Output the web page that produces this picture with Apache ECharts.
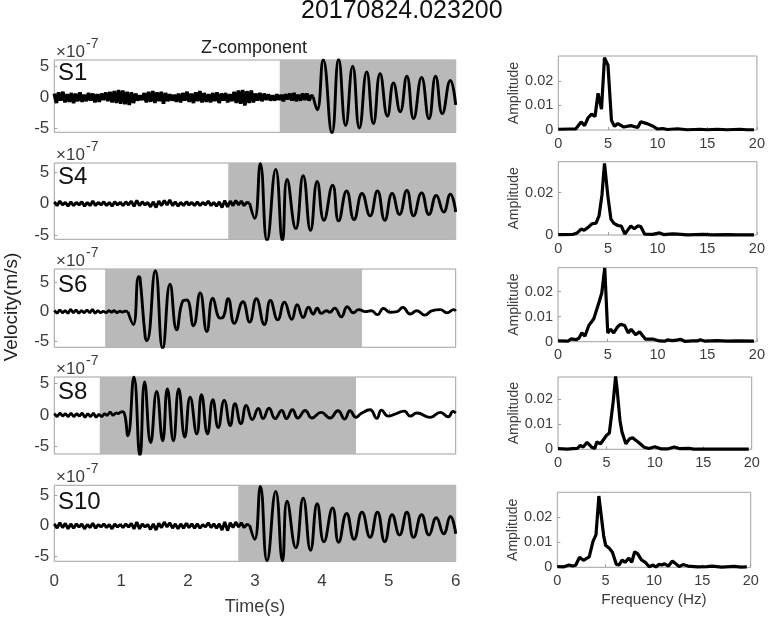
<!DOCTYPE html>
<html>
<head>
<meta charset="utf-8">
<style>
html, body { margin: 0; padding: 0; background: #fff; }
#chart { width: 768px; height: 618px; }
</style>
<script src="https://cdn.jsdelivr.net/npm/echarts@6/dist/echarts.min.js"></script>
</head>
<body>
<div id="chart"></div>
<script>
var stations = ['S1', 'S4', 'S6', 'S8', 'S10'];

// shaded windows, seconds
var s1Window = [3.37, 6];
var s4Window = [2.6, 6];
var s6Window = [0.76, 4.6];
var s8Window = [0.68, 4.51];
var s10Window = [2.75, 6];

// pre-event noise, one value every noiseStep seconds
var s1NoiseStep = 0.032;
var s1Noise = [0.6,-0.9,0.8,-0.5,0.9,-0.8,0.5,-0.7,0.7,-0.9,0.6,-0.6,0.8,-0.7,0.4,-0.6,0.7,-0.5,0.6,-0.8,0.5,-0.7,0.6,-0.4,
    0.8,-0.6,0.9,-0.8,1.0,-0.9,1.2,-1.0,1.1,-1.1,0.9,-1.2,0.8,-0.9,0.6,-0.5,0.3,-0.4,
    0.7,-0.8,0.9,-0.7,1.0,-0.9,0.8,-0.6,0.9,-1.0,0.7,-0.6,0.5,-0.5,0.4,-0.7,0.6,-0.8,0.7,-0.5,
    0.9,-0.7,0.6,-0.9,0.8,-0.6,1.0,-0.8,0.7,-0.7,0.5,-0.8,0.7,-0.6,0.8,-0.9,0.6,-0.5,0.7,-0.8,0.5,-0.6,
    0.9,-0.9,1.1,-1.0,1.2,-1.3,1.0,-0.9,1.1,-0.8,0.6,-0.5,0.7,-0.6,0.6,-0.4,0.5,-0.5,0.3,-0.5,
    0.5,-0.4,0.4,-0.6,0.5,-0.3,0.6,-0.5,0.7,-0.6,0.4,-0.5,0.6,-0.4,0.6,-0.5,0.3,0.1];
var s4NoiseStep = 0.0411;
var s4Noise = [0.3,-0.3,0.4,-0.2,0.2,-0.4,0.3,-0.3,0.2,-0.2,0.3,-0.4,0.2,-0.3,0.4,-0.3,0.2,-0.2,0.3,-0.3,0.2,-0.4,0.3,-0.2,
    0.2,-0.3,0.3,-0.2,0.4,-0.4,0.5,-0.3,0.3,-0.2,0.2,-0.5,0.3,-0.6,0.4,-0.3,0.5,-0.2,0.6,-0.3,0.3,-0.4,0.2,-0.3,
    0.3,-0.2,0.2,-0.3,0.3,-0.3,0.2,-0.2,0.4,-0.3,0.2,-0.4,0.3,-0.6,0.5,-0.5,0.4,-0.3,0.5,-0.2,0.4,-0.3,0.2,0.1];
var s6NoiseStep = 0.0407;
var s6Noise = [0.2,-0.3,0.3,-0.2,0.2,-0.3,0.4,-0.2,0.3,-0.3,0.2,-0.2,0.3,-0.2,0.4,-0.3,0.2,-0.2,0.1,-0.2,0.2,-0.1,0.2,-0.2,0.1,-0.1,0.1,0];
var s8NoiseStep = 0.0417;
var s8Noise = [0.2,-0.3,0.3,-0.2,0.2,-0.3,0.3,-0.3,0.2,-0.2,0.3,-0.4,0.2,-0.3,0.3,-0.4,0.1,-0.3,0.2,-0.1,0.5,-0.1,0.3,0.2,0.5];
var s10NoiseStep = 0.0411;
var s10Noise = [0.3,-0.4,0.5,-0.3,0.4,-0.5,0.3,-0.4,0.3,-0.2,0.3,-0.5,0.2,-0.3,0.4,-0.4,0.2,-0.2,0.3,-0.3,0.2,-0.5,0.3,-0.2,
    0.2,-0.3,0.3,-0.2,0.4,-0.5,0.6,-0.5,0.3,-0.2,0.2,-0.6,0.3,-0.7,0.4,-0.3,0.6,-0.2,0.5,-0.4,0.3,-0.5,0.3,-0.4,
    0.4,-0.3,0.3,-0.4,0.3,-0.4,0.2,-0.2,0.5,-0.3,0.3,-0.4,0.3,-0.7,0.6,-0.8,0.5,-0.3,0.6,-0.2,0.5,-0.3,0.2,0.1];

// arrivals, read peak by peak: [time, velocity x1e-7]
var s1Wave = [[3.87,0.1],[3.93,-2],[4.02,6],[4.15,-5.7],[4.25,6.1],[4.355,-4.5],[4.46,5],[4.56,-4.9],[4.67,4.1],[4.77,-4.2],[4.87,3.8],
    [4.98,-3],[5.07,2.3],[5.17,-2.3],[5.27,3.4],[5.37,-3.4],[5.49,3.2],[5.6,-3.4],[5.7,3.4],[5.8,-2.6],[5.92,2.7],[6,-1.2]];
var s4Wave = [[2.92,0.1],[2.995,-2.3],[3.08,6.3],[3.18,-5.8],[3.31,5.4],[3.41,-5.8],[3.48,3.8],[3.61,-3.9],[3.72,4.4],[3.83,-4.2],[3.93,3.5],
    [4.03,-2.6],[4.16,2.9],[4.25,-2.7],[4.37,2],[4.48,-2.5],[4.6,1.6],[4.72,-1.9],[4.83,2],[4.94,-2.6],[5.05,1.6],[5.16,-1.7],[5.27,2.1],
    [5.37,-1.9],[5.49,1.7],[5.6,-1.7],[5.71,1.3],[5.82,-1.3],[5.92,1.5],[6,-1.3]];
var s6Wave = [[1.1,0],[1.18,-2.2],[1.26,6],[1.28,5.8],[1.36,-4.4],[1.385,-5],[1.51,7],[1.62,-6.3],[1.73,4.7],[1.83,-3.1],[1.92,1.8],[1.98,2],
    [2.08,-2.4],[2.18,3.2],[2.28,-3.4],[2.37,2.3],[2.48,-1.1],[2.52,-1],[2.6,2.2],[2.69,-2],[2.82,1.7],[2.92,-1.8],[3.02,2.2],[3.14,-2.2],
    [3.23,1.9],[3.34,-1.4],[3.44,1.6],[3.55,-1.3],[3.63,1.2],[3.72,-1],[3.8,0.75],[3.87,-0.4],[3.93,0.6],[3.99,-0.3],[4.07,0.15],[4.12,-0.1],
    [4.19,0.6],[4.29,-0.9],[4.38,0.85],[4.47,-0.2],[4.55,0.35],[4.65,0],[4.74,0.15],[4.83,-0.5],[4.92,0.55],[5.02,-0.1],[5.12,0],[5.21,0.7],
    [5.32,-0.4],[5.42,0.15],[5.54,-0.6],[5.64,0.15],[5.77,0.35],[5.87,-0.2],[5.97,0.35],[6,0.1]];
var s8Wave = [[1,0.5],[1.04,0.4],[1.1,-3.3],[1.19,6],[1.28,-6.5],[1.35,5.2],[1.44,-4.4],[1.53,3.7],[1.62,-4.1],[1.69,4.1],[1.78,-4.1],[1.86,4.1],
    [1.95,-3.5],[2.03,2.8],[2.13,-3],[2.2,3.2],[2.29,-3],[2.37,2.4],[2.45,-2],[2.54,2.3],[2.63,-1.7],[2.7,1.75],[2.79,-1.4],[2.87,1.5],[2.96,-0.75],
    [3.05,1],[3.12,-0.6],[3.21,1.05],[3.3,-0.6],[3.4,0.7],[3.47,-0.6],[3.56,0.8],[3.64,-0.5],[3.75,0.7],[3.85,-0.5],[3.99,0.4],[4.12,-0.5],
    [4.24,0.65],[4.34,-0.65],[4.42,0.65],[4.51,-0.4],[4.59,0.25],[4.72,0.8],[4.82,-0.55],[4.89,0.75],[4.99,-0.2],[5.09,0.1],[5.23,0.6],
    [5.32,-0.2],[5.42,0.3],[5.62,-0.4],[5.77,0.4],[5.89,-0.3],[5.96,0.55],[6,0.3]];
var s10Wave = [[2.92,0.1],[2.995,-2.2],[3.08,6.4],[3.18,-5.7],[3.31,5.6],[3.41,-5.7],[3.48,4],[3.61,-3.6],[3.72,4.5],[3.83,-4],[3.93,3.6],
    [4.03,-2.6],[4.16,2.9],[4.25,-2.7],[4.37,2],[4.48,-2.2],[4.6,2.2],[4.72,-1.9],[4.83,2.2],[4.94,-2.6],[5.05,1.8],[5.16,-1.5],[5.27,2.2],
    [5.37,-1.9],[5.49,1.8],[5.6,-1.5],[5.71,1.3],[5.82,-1.3],[5.92,1.5],[6,-1.3]];

// amplitude spectra: [frequency Hz, amplitude]
var s1Spec = [[0,0.0003],[1.2,0.0004],[1.4,0.0008],[1.75,0.0004],[2.3,0.0033],[2.65,0.0018],[3,0.005],[3.35,0.0065],[3.7,0.0055],[4,0.015],[4.35,0.0085],
    [4.65,0.0295],[5,0.0265],[5.35,0.004],[5.65,0.0015],[6,0.0026],[6.6,0.0012],[7.3,0.0018],[8,0.001],[8.3,0.0034],[9,0.0025],[9.6,0.0014],[10,0.0004],
    [10.5,0.0006],[11,0.0002],[12,0.0005],[13,0.0001],[14.3,0.0003],[15,0.0001],[16,0.0003],[17,0.0001],[18.3,0.0003],[19,0.0001],[19.7,0.0001]];
var s4Spec = [[0,0.0002],[1.5,0.0003],[1.9,0.001],[2.3,0.0028],[2.6,0.0022],[3,0.0036],[3.4,0.0053],[3.8,0.0056],[4.1,0.009],[4.4,0.019],[4.65,0.0338],
    [5,0.018],[5.3,0.0075],[5.6,0.0055],[6,0.0045],[6.35,0.0042],[6.7,0.0004],[7.3,0.0043],[7.65,0.003],[8,0.0043],[8.3,0.004],[8.7,0.0004],[9.5,0.0003],
    [10.2,0.001],[10.6,0.0002],[11.5,0.0005],[12,0.0004],[13,0.0001],[14.6,0.0003],[15.5,0.0001],[17,0.0002],[18,0.0001],[19.7,0.0001]];
var s6Spec = [[0,0.0003],[1,0.0002],[1.3,0.0011],[1.8,0.0008],[2.1,0.0014],[2.4,0.0036],[2.7,0.0022],[3.1,0.0065],[3.6,0.0092],[3.8,0.0098],[4.1,0.0155],
    [4.4,0.0195],[4.7,0.0295],[5,0.0035],[5.3,0.005],[5.6,0.0035],[6,0.006],[6.3,0.007],[6.7,0.0065],[7.05,0.0035],[7.35,0.005],[7.8,0.0028],[8.2,0.004],
    [8.4,0.0037],[8.8,0.001],[9.6,0.001],[10.2,0.0003],[10.7,0.0002],[11,0.0007],[11.5,0.0004],[11.9,0.0006],[12.3,0.001],[12.8,0.0001],[13.5,0.0003],
    [14,0.0003],[14.3,0.0008],[14.8,0.0002],[16,0.0004],[17,0.0002],[18,0.0003],[19.7,0.0002]];
var s8Spec = [[0,0.0003],[1,0.0001],[1.5,0.0003],[2,0.0004],[2.3,0.0015],[2.6,0.0009],[3,0.0028],[3.5,0.0008],[3.8,0.0003],[4,0.0029],[4.4,0.0022],[5,0.0055],
    [5.3,0.0065],[5.5,0.0066],[5.7,0.019],[5.95,0.029],[6.1,0.024],[6.4,0.0115],[6.6,0.007],[7,0.0022],[7.4,0.0042],[7.7,0.0046],[8.3,0.0028],[8.9,0.0008],
    [9.4,0.0003],[10,0.001],[10.6,0.0002],[11.4,0.0002],[12,0.0009],[12.5,0.0003],[13.5,0.0004],[14,0.0001],[15,0.0001],[17,0.0001],[19.7,0.0001]];
var s10Spec = [[0,0.0003],[0.7,0.0002],[1.2,0.0009],[1.6,0.0005],[1.9,0.0008],[2.3,0.004],[2.7,0.0028],[3.3,0.0042],[3.7,0.0105],[4,0.013],[4.3,0.0285],[4.5,0.022],
    [4.8,0.0125],[5,0.0088],[5.4,0.0075],[5.7,0.006],[6.1,0.0012],[6.4,0.001],[6.7,0.0029],[7,0.002],[7.4,0.0037],[7.7,0.002],[8,0.0062],[8.3,0.0055],[8.7,0.003],
    [9.1,0.002],[9.5,0.0002],[9.9,0.0009],[10.2,0.0001],[10.5,0.0012],[10.8,0.0009],[11.1,0.0014],[11.5,0.0005],[11.9,0.0025],[12.6,0.0003],[13,0.0011],
    [13.5,0.0005],[14.5,0.0002],[15.5,0.0003],[16,0.0005],[17,0.0001],[18.3,0.0004],[19,0.0001],[19.6,0.0002]];

// tick labels
var velocityTicks = [-5, 0, 5];
var ampTicksA = [0, 0.01, 0.02];
var ampTicksB = [0, 0.02];

var fontName = '"Liberation Sans", Arial, sans-serif';
var frameColor = '#a0a0a0';
var textColor = '#3c3c3c';

var chart = echarts.init(document.getElementById('chart'));

function noiseData(values, step) {
    return values.map(function (v, i) {
        return [i * step, v];
    });
}

var leftPanels = [
    { top: 60, bottom: 132.3, ymin: -5.6, ymax: 6.0, noise: s1Noise, step: s1NoiseStep, noiseWidth: 3.6, wave: s1Wave, win: s1Window, labelTop: 1 },
    { top: 163, bottom: 239.3, ymin: -5.6, ymax: 6.4, noise: s4Noise, step: s4NoiseStep, noiseWidth: 3, wave: s4Wave, win: s4Window, labelTop: 2 },
    { top: 269, bottom: 347.3, ymin: -6.1, ymax: 7.3, noise: s6Noise, step: s6NoiseStep, noiseWidth: 2.8, wave: s6Wave, win: s6Window, labelTop: 4 },
    { top: 377, bottom: 454, ymin: -6.2, ymax: 6.0, noise: s8Noise, step: s8NoiseStep, noiseWidth: 2.8, wave: s8Wave, win: s8Window, labelTop: 3 },
    { top: 485.3, bottom: 561.3, ymin: -5.8, ymax: 6.6, noise: s10Noise, step: s10NoiseStep, noiseWidth: 3, wave: s10Wave, win: s10Window, labelTop: 5 }
];

var rightPanels = [
    { left: 558.3, right: 759.3, top: 56, bottom: 130, ymax: 0.0302, ticks: ampTicksA, spec: s1Spec },
    { left: 558.3, right: 759.3, top: 161.7, bottom: 235, ymax: 0.0346, ticks: ampTicksB, spec: s4Spec },
    { left: 558, right: 758.7, top: 267.7, bottom: 341.7, ymax: 0.0296, ticks: ampTicksA, spec: s6Spec },
    { left: 558, right: 751.7, top: 377, bottom: 449.3, ymax: 0.0288, ticks: ampTicksA, spec: s8Spec },
    { left: 557.3, right: 750.7, top: 492.3, bottom: 567.3, ymax: 0.03, ticks: ampTicksA, spec: s10Spec }
];

var grids = [], xAxes = [], yAxes = [], series = [], titles = [];

function tickStyle() {
    return { show: true, inside: true, length: 3, lineStyle: { color: frameColor, width: 1 } };
}

leftPanels.forEach(function (p, i) {
    var last = i === leftPanels.length - 1;
    grids.push({
        left: 54.3, width: 401.4, top: p.top, height: p.bottom - p.top,
        show: true, borderColor: frameColor, borderWidth: 1, backgroundColor: 'transparent'
    });
    xAxes.push({
        gridIndex: grids.length - 1, type: 'value', min: 0, max: 6, interval: 1,
        axisLine: { show: false }, splitLine: { show: false }, axisTick: tickStyle(),
        axisLabel: { show: last, fontFamily: fontName, fontSize: 17, color: textColor, margin: 12 },
        name: last ? 'Time(s)' : '', nameLocation: 'middle', nameGap: 37,
        nameTextStyle: { fontFamily: fontName, fontSize: 18, color: textColor }
    });
    yAxes.push({
        gridIndex: grids.length - 1, type: 'value', min: p.ymin, max: p.ymax,
        axisLine: { show: false }, splitLine: { show: false },
        axisTick: { show: true, inside: true, length: 3, lineStyle: { color: frameColor, width: 1 }, customValues: velocityTicks },
        axisLabel: { fontFamily: fontName, fontSize: 17, color: textColor, margin: 5, customValues: velocityTicks }
    });
    series.push({
        type: 'line', xAxisIndex: grids.length - 1, yAxisIndex: grids.length - 1,
        data: noiseData(p.noise, p.step), symbol: 'none', silent: true,
        lineStyle: { color: '#000', width: p.noiseWidth }, z: 3,
        markArea: {
            silent: true, z: 1,
            itemStyle: { color: '#b9b9b9', opacity: 1 },
            data: [[{ xAxis: p.win[0] }, { xAxis: p.win[1] }]]
        }
    });
    series.push({
        type: 'line', xAxisIndex: grids.length - 1, yAxisIndex: grids.length - 1,
        data: p.wave, symbol: 'none', silent: true, smooth: 0.5,
        lineStyle: { color: '#000', width: 2.9 }, z: 3
    });
    titles.push({ text: stations[i], left: 58, top: p.top + p.labelTop, padding: 0, textStyle: { fontFamily: fontName, fontSize: 24, fontWeight: 'normal', color: '#111' } });
    titles.push({ text: '\u00d710', left: 56, top: p.top - 16, padding: 0, textStyle: { fontFamily: fontName, fontSize: 17, fontWeight: 'normal', color: textColor } });
    titles.push({ text: '-7', left: 86, top: p.top - 23, padding: 0, textStyle: { fontFamily: fontName, fontSize: 14, fontWeight: 'normal', color: textColor } });
});

rightPanels.forEach(function (p, i) {
    var last = i === rightPanels.length - 1;
    grids.push({
        left: p.left, width: p.right - p.left, top: p.top, height: p.bottom - p.top,
        show: true, borderColor: frameColor, borderWidth: 1, backgroundColor: 'transparent'
    });
    xAxes.push({
        gridIndex: grids.length - 1, type: 'value', min: 0, max: 20, interval: 5,
        axisLine: { show: false }, splitLine: { show: false }, axisTick: tickStyle(),
        axisLabel: { fontFamily: fontName, fontSize: 14.5, color: textColor, margin: 6 },
        name: last ? 'Frequency (Hz)' : '', nameLocation: 'middle', nameGap: 25,
        nameTextStyle: { fontFamily: fontName, fontSize: 15.3, color: textColor }
    });
    yAxes.push({
        gridIndex: grids.length - 1, type: 'value', min: 0, max: p.ymax,
        axisLine: { show: false }, splitLine: { show: false },
        axisTick: { show: true, inside: true, length: 3, lineStyle: { color: frameColor, width: 1 }, customValues: p.ticks },
        axisLabel: { fontFamily: fontName, fontSize: 14.5, color: textColor, margin: 5, customValues: p.ticks },
        name: 'Amplitude', nameLocation: 'middle', nameGap: 30, nameRotate: 90,
        nameTextStyle: { fontFamily: fontName, fontSize: 14, color: textColor }
    });
    series.push({
        type: 'line', xAxisIndex: grids.length - 1, yAxisIndex: grids.length - 1,
        data: p.spec, symbol: 'none', silent: true, clip: false,
        lineStyle: { color: '#000', width: 3.2 }, z: 3
    });
});

titles.push({ text: '20170824.023200', left: 301, top: -1, padding: 0, textStyle: { fontFamily: fontName, fontSize: 25, fontWeight: 'normal', color: '#111' } });
titles.push({ text: 'Z-component', left: 201, top: 39, padding: 0, textStyle: { fontFamily: fontName, fontSize: 18, fontWeight: 'normal', color: '#222' } });

var option = {
    backgroundColor: '#fff',
    animation: false,
    title: titles,
    grid: grids,
    xAxis: xAxes,
    yAxis: yAxes,
    series: series,
    graphic: [{
        type: 'text', x: 12, y: 307, rotation: Math.PI / 2, silent: true,
        style: { text: 'Velocity(m/s)', font: '19px ' + fontName, fill: '#222', textAlign: 'center', textVerticalAlign: 'middle' }
    }]
};
chart.setOption(option);
</script>
</body>
</html>
